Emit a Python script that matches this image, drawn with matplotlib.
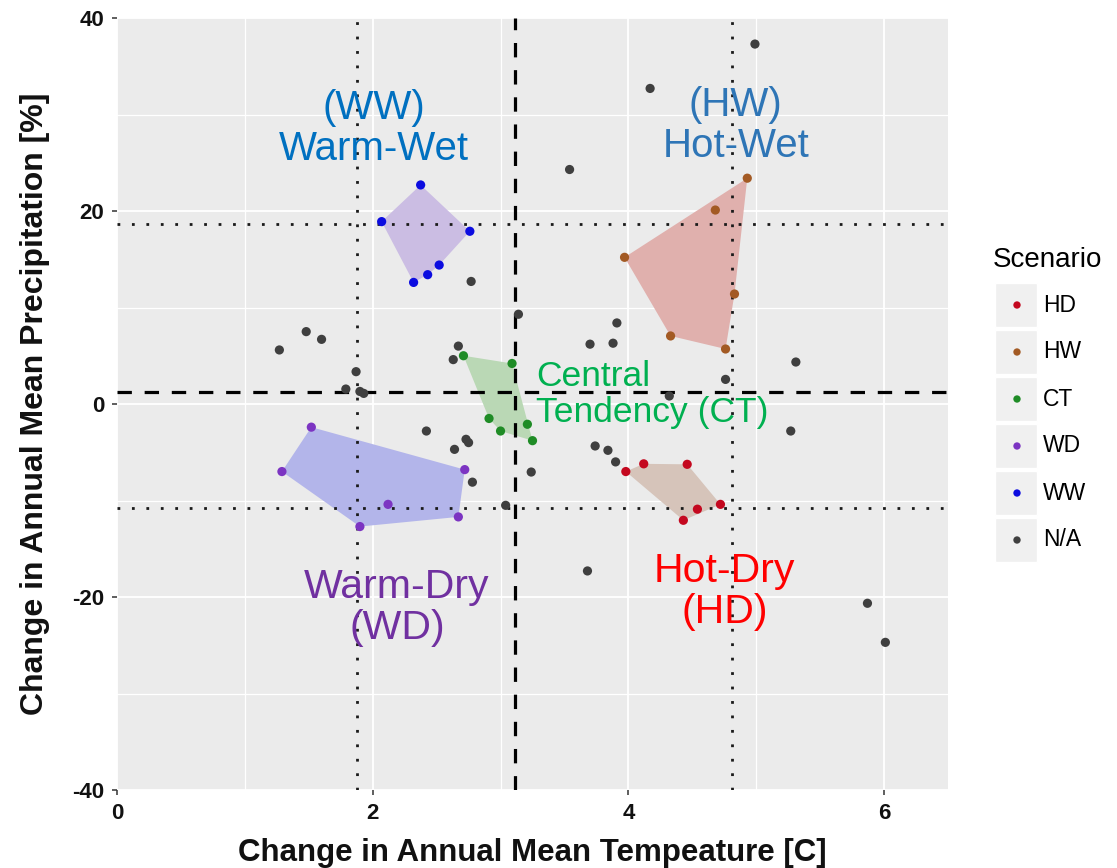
import numpy as np
import matplotlib
matplotlib.use("Agg")
import matplotlib.pyplot as plt
from matplotlib.patches import Polygon, Rectangle

plt.rcParams['font.family'] = ['Liberation Sans', 'DejaVu Sans']
plt.rcParams['axes.unicode_minus'] = False

# ---------------- data ----------------
scenarios = ["HD", "HW", "CT", "WD", "WW", "N/A"]

hd_x = [3.98, 4.12, 4.46, 4.72, 4.54, 4.43]
hd_y = [-7.0, -6.2, -6.25, -10.4, -10.9, -12.05]

hw_x = [4.93, 4.68, 3.97, 4.83, 4.33, 4.76]
hw_y = [23.4, 20.1, 15.2, 11.4, 7.05, 5.7]

ct_x = [2.71, 3.09, 2.91, 3.00, 3.21, 3.25]
ct_y = [5.0, 4.2, -1.5, -2.8, -2.1, -3.8]

wd_x = [1.52, 1.29, 2.72, 2.12, 2.67, 1.90]
wd_y = [-2.4, -7.0, -6.8, -10.4, -11.7, -12.7]

ww_x = [2.375, 2.07, 2.76, 2.52, 2.43, 2.32]
ww_y = [22.7, 18.9, 17.9, 14.4, 13.4, 12.6]

na_x = [2.77, 3.14, 1.48, 1.60, 1.27, 2.67, 2.63, 1.87, 1.79, 1.90, 1.93,
        4.99, 4.17, 3.54, 3.91, 3.70, 3.88, 5.31, 4.76, 4.32,
        2.42, 2.73, 2.75, 2.64, 2.78, 3.04, 3.24,
        5.27, 3.74, 3.84, 3.90, 3.68, 5.87, 6.01]
na_y = [12.7, 9.3, 7.5, 6.7, 5.6, 6.0, 4.6, 3.35, 1.55, 1.3, 1.1,
        37.3, 32.7, 24.3, 8.4, 6.2, 6.3, 4.35, 2.55, 0.83,
        -2.8, -3.66, -4.0, -4.7, -8.1, -10.5, -7.05,
        -2.8, -4.35, -4.8, -6.0, -17.3, -20.65, -24.7]

median_temp = 3.11
median_precip = 1.2
temp_bounds = [1.88, 4.81]
precip_bounds = [18.65, -10.8]

x_ticks = [0, 2, 4, 6]
y_ticks = [-40, -20, 0, 20, 40]

region_labels = ["(WW)\nWarm-Wet", "(HW)\nHot-Wet", "Central\nTendency (CT)",
                 "Hot-Dry\n(HD)", "Warm-Dry\n(WD)"]
region_label_x = [2.01, 4.84, 3.28, 4.75, 2.19]
region_label_y = [28.6, 28.9, 1.0, -19.4, -21.1]

# ---------------- styles ----------------
point_colors = {"HD": "#c4081f", "HW": "#a35a24", "CT": "#1f8c26",
                "WD": "#7c34c2", "WW": "#0c0ce0", "N/A": "#3f3f3f"}
hull_colors = {"HD": "#d6c4ba", "HW": "#e0b0ad", "CT": "#bad8b5",
               "WD": "#b3b5ea", "WW": "#cbbde3"}
label_colors = ["#0070c0", "#2e75b6", "#00b050", "#ff0000", "#7030a0"]
label_sizes = [29, 29, 25.5, 29.5, 29.5]
label_ha = ["center", "center", "left", "center", "center"]

groups = {"HD": (hd_x, hd_y), "HW": (hw_x, hw_y), "CT": (ct_x, ct_y),
          "WD": (wd_x, wd_y), "WW": (ww_x, ww_y), "N/A": (na_x, na_y)}


def convex_hull(xs, ys):
    pts = sorted(zip(xs, ys))

    def cross(o, a, b):
        return (a[0] - o[0]) * (b[1] - o[1]) - (a[1] - o[1]) * (b[0] - o[0])
    lower, upper = [], []
    for p in pts:
        while len(lower) >= 2 and cross(lower[-2], lower[-1], p) <= 0:
            lower.pop()
        lower.append(p)
    for p in reversed(pts):
        while len(upper) >= 2 and cross(upper[-2], upper[-1], p) <= 0:
            upper.pop()
        upper.append(p)
    return lower[:-1] + upper[:-1]


W, H = 1117, 868
fig = plt.figure(figsize=(W / 100, H / 100), dpi=100)
ax = fig.add_axes([117 / W, 1 - 790 / H, (948 - 117) / W, (790 - 18) / H])
ax.set_facecolor("#ebebeb")
ax.set_xlim(0, 6.5)
ax.set_ylim(-40, 40)

# grid
ax.set_xticks(x_ticks)
ax.set_yticks(y_ticks)
ax.set_xticks([1, 3, 5], minor=True)
ax.set_yticks([-30, -10, 10, 30], minor=True)
ax.grid(which="major", color="white", linewidth=1.3, zorder=0)
ax.grid(which="minor", color="white", linewidth=0.9, zorder=0)
ax.set_axisbelow(True)
for s in ax.spines.values():
    s.set_visible(False)

ax.tick_params(which="major", length=3.6, width=1.1, color="#333333",
               labelsize=16, labelcolor="#111111", pad=5.5)
ax.tick_params(which="minor", length=0)
for lbl in ax.get_xticklabels() + ax.get_yticklabels():
    lbl.set_fontweight("bold")

# hulls
for name in ["HD", "HW", "CT", "WD", "WW"]:
    xs, ys = groups[name]
    hull = convex_hull(xs, ys)
    ax.add_patch(Polygon(hull, closed=True, facecolor=hull_colors[name],
                         edgecolor="none", zorder=2))

# reference lines
ax.axvline(median_temp, color="black", linewidth=2.3, linestyle=(0, (4.5, 4)), zorder=3)
ax.axhline(median_precip, color="black", linewidth=2.3, linestyle=(0, (4.5, 4)), zorder=3)
for v in temp_bounds:
    ax.axvline(v, color="#1a1a1a", linewidth=2.0, linestyle=(0, (1, 4.2)), zorder=3)
for v in precip_bounds:
    ax.axhline(v, color="#1a1a1a", linewidth=2.0, linestyle=(0, (1, 4.2)), zorder=3)

# points
for name in scenarios:
    xs, ys = groups[name]
    ax.scatter(xs, ys, s=44, color=point_colors[name], edgecolors="none", zorder=4)

# region labels
for t, x, y, c, fs, ha in zip(region_labels, region_label_x, region_label_y,
                              label_colors, label_sizes, label_ha):
    ax.text(x, y, t, color=c, fontsize=fs, ha=ha, va="center",
            multialignment="left" if ha == "left" else "center",
            linespacing=1.1, zorder=5)

# axis titles
fig.text(532.5 / W, 1 - 853 / H, "Change in Annual Mean Tempeature [C]",
         ha="center", va="center", fontsize=22.5, fontweight="bold", color="#111111")
fig.text(35 / W, 1 - 404 / H, "Change in Annual Mean Precipitation [%]",
         ha="center", va="center", rotation=90, fontsize=23, fontweight="bold",
         color="#111111")

# legend (drawn in a pixel-coordinate overlay)
lg = fig.add_axes([0, 0, 1, 1], facecolor="none")
lg.set_xlim(0, W)
lg.set_ylim(H, 0)
lg.axis("off")
lg.text(993, 260, "Scenario", fontsize=20, ha="left", va="center")
for i, name in enumerate(scenarios):
    yc = 305 + i * 47
    lg.add_patch(Rectangle((995, yc - 22), 42, 44, facecolor="#f0f0f0",
                           edgecolor="white", linewidth=1))
    lg.scatter([1017], [yc], s=28, color=point_colors[name], edgecolors="none")
    lg.text(1043, yc, name, fontsize=16.5, ha="left", va="center")

fig.savefig("out.png", dpi=100)
